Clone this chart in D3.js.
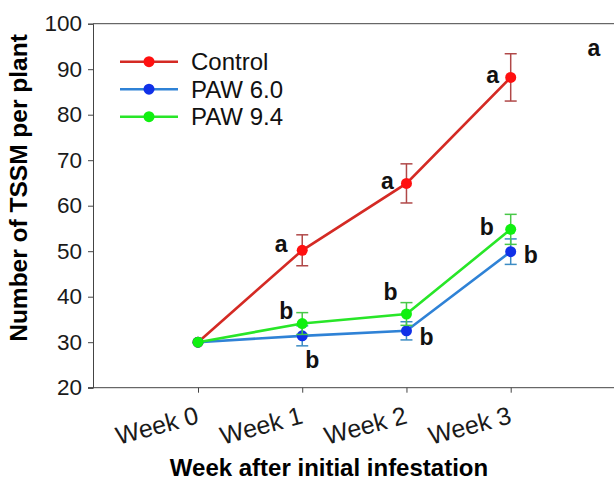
<!DOCTYPE html>
<html>
<head>
<meta charset="utf-8">
<script src="https://cdn.jsdelivr.net/npm/d3@7"></script>
<style>
  body { margin: 0; background: #fff; }
  svg { display: block; font-family: Arial, "Liberation Sans", sans-serif; }
</style>
</head>
<body>
<div id="chart"></div>
<script>
// chart values
var weeks = ["Week 0", "Week 1", "Week 2", "Week 3"];
var yTicks = [20, 30, 40, 50, 60, 70, 80, 90, 100];
var seriesNames = ["Control", "PAW 6.0", "PAW 9.4"];
var controlMean = [30, 50.2, 64.9, 88.2];
var controlErr  = [0, 3.4, 4.3, 5.2];
var paw60Mean   = [30, 31.4, 32.5, 49.9];
var paw60Err    = [0, 2.2, 2.0, 2.8];
var paw94Mean   = [30, 34.1, 36.2, 54.8];
var paw94Err    = [0, 2.4, 2.5, 3.3];
var controlLetters = ["", "a", "a", "a"];
var paw60Letters   = ["", "b", "b", "b"];
var paw94Letters   = ["", "b", "b", "b"];

// styles / layout (not data)
var width = 614, height = 482;
var styles = [
  {line: "#d42a24", dot: "#ff1010", err: "#b04848", off: [[0,0],[-21,-6],[-19,-2],[-18,-2]]},
  {line: "#2f82d6", dot: "#1030e8", err: "#3c8cc4", off: [[0,0],[10,24],[20,6],[20,3]]},
  {line: "#28e628", dot: "#10f010", err: "#48c848", off: [[0,0],[-16,-13],[-16,-22],[-24,-2]]}
];
var series = [
  {name: seriesNames[0], mean: controlMean, err: controlErr, letters: controlLetters},
  {name: seriesNames[1], mean: paw60Mean, err: paw60Err, letters: paw60Letters},
  {name: seriesNames[2], mean: paw94Mean, err: paw94Err, letters: paw94Letters}
];

var svg = d3.select("#chart").append("svg")
    .attr("width", width).attr("height", height);

var x = d3.scaleLinear().domain([0, 3]).range([198, 510.7]);
var y = d3.scaleLinear().domain([20, 100]).range([387.7, 23.7]);
var axisColor = "#444";

// y axis
var yAxis = svg.append("g")
    .attr("transform", "translate(93,0)")
    .call(d3.axisLeft(y).tickValues(yTicks).tickSize(5).tickPadding(6));
yAxis.select(".domain").attr("stroke", axisColor);
yAxis.selectAll(".tick line").attr("stroke", axisColor);
yAxis.selectAll(".tick text").attr("font-size", "22.5px").attr("fill", "#1a1a1a");

// top frame line
svg.append("line")
    .attr("x1", 93).attr("x2", width)
    .attr("y1", y(100)).attr("y2", y(100))
    .attr("stroke", axisColor);

// x axis
var xAxis = svg.append("g")
    .attr("transform", "translate(0," + y(20) + ")")
    .call(d3.axisBottom(x).tickValues([0, 1, 2, 3]).tickSize(5).tickFormat(""));
xAxis.select(".domain").remove();
xAxis.selectAll(".tick line").attr("stroke", axisColor);
svg.append("line")
    .attr("x1", 88).attr("x2", width)
    .attr("y1", y(20)).attr("y2", y(20))
    .attr("stroke", axisColor);
svg.selectAll(".xlab").data(weeks).enter().append("text")
    .attr("class", "xlab")
    .attr("transform", function (d, i) { return "translate(" + (x(i) + 2) + ",423) rotate(-15)"; })
    .attr("text-anchor", "end")
    .attr("font-size", "25px")
    .attr("fill", "#1a1a1a")
    .text(function (d) { return d; });

// axis titles
svg.append("text")
    .attr("x", 329).attr("y", 476)
    .attr("text-anchor", "middle")
    .attr("font-size", "24px").attr("font-weight", "bold")
    .text("Week after initial infestation");
svg.append("text")
    .attr("transform", "translate(27,188) rotate(-90)")
    .attr("text-anchor", "middle")
    .attr("font-size", "24.5px").attr("font-weight", "bold")
    .text("Number of TSSM per plant");

var line = d3.line()
    .x(function (d, i) { return x(i); })
    .y(function (d) { return y(d); });

series.forEach(function (s, k) {
    var st = styles[k];
    var g = svg.append("g");
    // error bars
    s.mean.forEach(function (m, i) {
        if (!s.err[i]) return;
        var cx = x(i), t = y(m + s.err[i]), b = y(m - s.err[i]);
        g.append("line").attr("x1", cx).attr("x2", cx).attr("y1", t).attr("y2", b)
            .attr("stroke", st.err).attr("stroke-width", 1.5);
        [t, b].forEach(function (yy) {
            g.append("line").attr("x1", cx - 6).attr("x2", cx + 6).attr("y1", yy).attr("y2", yy)
                .attr("stroke", st.err).attr("stroke-width", 1.5);
        });
    });
    g.append("path").datum(s.mean)
        .attr("d", line)
        .attr("fill", "none")
        .attr("stroke", st.line)
        .attr("stroke-width", 2.6);
    g.selectAll("circle").data(s.mean).enter().append("circle")
        .attr("cx", function (d, i) { return x(i); })
        .attr("cy", function (d) { return y(d); })
        .attr("r", 5.5)
        .attr("fill", st.dot);
    g.selectAll("text").data(s.letters).enter().append("text")
        .attr("x", function (d, i) { return x(i) + st.off[i][0]; })
        .attr("y", function (d, i) { return y(s.mean[i]) + st.off[i][1]; })
        .attr("dy", "0.35em")
        .attr("text-anchor", "middle")
        .attr("font-size", "23px")
        .attr("font-weight", "bold")
        .attr("fill", "#111")
        .text(function (d) { return d; });
});

// stray panel letter at the right edge
svg.append("text")
    .attr("x", 594).attr("y", 48).attr("dy", "0.35em")
    .attr("text-anchor", "middle")
    .attr("font-size", "23px").attr("font-weight", "bold")
    .attr("fill", "#111")
    .text("a");

// legend
var legend = svg.append("g");
series.forEach(function (s, k) {
    var ly = 61.7 + k * 27.5;
    legend.append("line").attr("x1", 120).attr("x2", 178).attr("y1", ly).attr("y2", ly)
        .attr("stroke", styles[k].line).attr("stroke-width", 2.6);
    legend.append("circle").attr("cx", 149).attr("cy", ly).attr("r", 5.5)
        .attr("fill", styles[k].dot);
    legend.append("text").attr("x", 191).attr("y", ly + 8.5)
        .attr("font-size", "24px").attr("fill", "#111")
        .text(s.name);
});
</script>
</body>
</html>
